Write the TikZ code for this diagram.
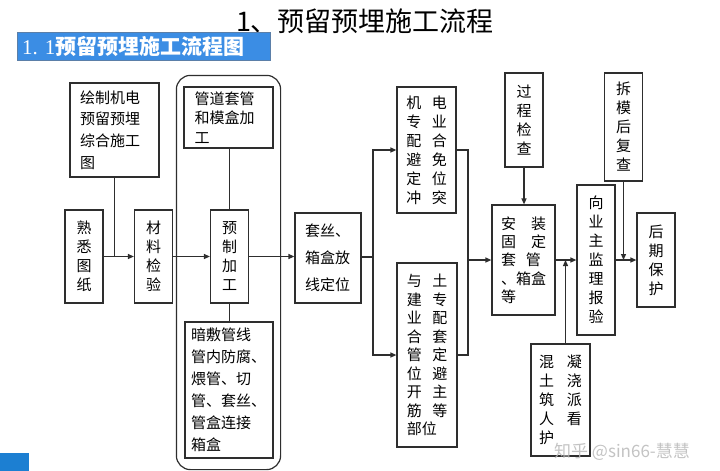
\documentclass[tikz,border=0pt]{standalone}
\usepackage{fontspec}
\setmainfont{Noto Sans CJK SC}
\newfontfamily\numfont{Liberation Serif}
\usepackage{tikz}
\usetikzlibrary{arrows.meta,positioning,fit,calc}
\usepackage{xcolor}
\definecolor{linegray}{HTML}{2E2E2E}
\definecolor{bannerblue}{HTML}{3B8DE4}
\definecolor{bannerrule}{HTML}{5B7FA8}
\definecolor{cornerblue}{HTML}{1C7FD2}

\begin{document}
\begin{tikzpicture}[
  x=1pt, y=-1pt,
  font=\fontsize{15pt}{19pt}\selectfont,
  box/.style={draw=linegray, line width=1.2pt, inner sep=0pt, align=center,
              fill=white},
  col/.style={box, minimum width=38pt, minimum height=93pt},
  lh/.style={font=\fontsize{15pt}{#1}\selectfont},
  link/.style={draw=linegray, line width=1.2pt},
  flow/.style={link, -{Triangle[length=6pt,width=5pt]}},
]
\useasboundingbox (0,0) rectangle (720,471);
\fill[white] (0,0) rectangle (720,471);

\node[font=\fontsize{27pt}{30pt}\selectfont] (title) at (365,21) {1、预留预埋施工流程};
\node[fill=bannerblue, draw=bannerrule, line width=0.6pt, inner sep=0pt,
      minimum width=253pt, minimum height=28pt, anchor=north west] (banner) at (17,32) {};
\node[anchor=west, text=white, inner sep=0pt, font=\fontsize{21pt}{24pt}\selectfont]
  (bannertext) at ($(banner.west)+(5,0)$) {{\numfont 1. 1}\bfseries 预留预埋施工流程图};

\node[col] (tuzhi) at (84,256.5) {熟\\悉\\图\\纸};
\node[box, minimum width=89pt, minimum height=94pt, text width=69pt, align=left, lh=21.7pt]
  (huizhi) at (114.5,130) {绘制机电\\预留预埋\\综合施工\\图};
\node[col] (cailiao) at (153.5,256.5) {材\\料\\检\\验};

\node[box, minimum width=89pt, minimum height=61pt, text width=68pt, align=left, lh=19.5pt]
  (guandao) at (228.5,117.5) {管道套管\\和模盒加\\工};
\node[col] (yuzhi) at (229.5,256.5) {预\\制\\加\\工};
\node[box, minimum width=88pt, minimum height=136pt, text width=76pt, align=left, lh=22pt]
  (ansuo) at (229,390) {暗敷管线\\管内防腐、\\煨管、切\\管、套丝、\\管盒连接\\箱盒};

\node[box, minimum width=66pt, minimum height=90pt, text width=46pt, align=left, lh=27pt]
  (taosi) at (328,258) {套丝、\\箱盒放\\线定位};

\node[box, minimum width=59pt, minimum height=126pt, align=left] (bimian) at (426.5,150)
  {机\hspace{10.5pt}电\\专\hspace{10.5pt}业\\配\hspace{10.5pt}合\\避\hspace{10.5pt}免\\
   定\hspace{10.5pt}位\\冲\hspace{10.5pt}突};
\node[box, minimum width=60pt, minimum height=184pt, align=left, lh=18.5pt] (kaijin) at (427,355)
  {与\hspace{10.5pt}土\\建\hspace{10.5pt}专\\业\hspace{10.5pt}配\\合\hspace{10.5pt}套\\
   管\hspace{10.5pt}定\\位\hspace{10.5pt}避\\开\hspace{10.5pt}主\\筋\hspace{10.5pt}等\\部位};

\node[box, minimum width=63pt, minimum height=110pt, align=left, lh=18.3pt] (anzhuang) at (523.5,260)
  {安\hspace{15pt}装\\固\hspace{15pt}定\\套\hspace{10pt}管\\、箱盒\\等};
\node[col, minimum height=94pt] (guocheng) at (524,120) {过\\程\\检\\查};
\node[box, minimum width=59pt, minimum height=112pt, align=left] (kanhu) at (560.5,400)
  {混\hspace{13pt}凝\\土\hspace{13pt}浇\\筑\hspace{13pt}派\\人\hspace{13pt}看\\护};

\node[col, minimum height=150pt] (baoyan) at (596,260) {向\\业\\主\\监\\理\\报\\验};
\node[col, minimum height=108pt] (chaimo) at (623.5,127) {拆\\模\\后\\复\\查};
\node[col, minimum height=94pt] (baohu) at (656,260) {后\\期\\保\\护};

\node[draw=linegray, line width=1.2pt, rounded corners=14pt, inner xsep=7pt, inner ysep=11pt,
      fit=(guandao)(ansuo)] (prefab) {};

\coordinate (fork) at (373,257);
\coordinate (merge) at (468,260);

\draw[flow] (tuzhi) -- (cailiao);
\draw[link] (huizhi) -- (huizhi |- tuzhi);
\draw[flow] (cailiao) -- (yuzhi);
\draw[link] (guandao.south -| yuzhi) -- (yuzhi);
\draw[link] (yuzhi.south) -- (yuzhi.south |- ansuo.north);
\draw[flow] (yuzhi) -- (yuzhi -| taosi.west);
\draw[link] (fork -| taosi.east) -- (fork);
\draw[flow] (fork) |- (bimian);
\draw[flow] (fork) |- (kaijin);
\draw[link] (bimian) -| (merge);
\draw[link] (kaijin) -| (merge);
\draw[flow] (merge) -- (merge -| anzhuang.west);
\draw[flow] (guocheng) -- (guocheng |- anzhuang.north);
\draw[flow] (anzhuang) -- (anzhuang -| baoyan.west);
\draw[flow] ([xshift=5pt]kanhu.north) -- ([xshift=5pt]kanhu.north |- anzhuang.east);
\draw[flow] (baoyan) -- (baoyan -| baohu.west);
\draw[flow] (chaimo) -- (chaimo |- baoyan.east);

\fill[cornerblue] (0,453) rectangle (29,471);
\node[text=gray!55, opacity=0.85, font=\fontsize{17pt}{17pt}\selectfont] (watermark) at (622,452)
  {知乎 @sin66-慧慧};

\end{tikzpicture}
\end{document}
